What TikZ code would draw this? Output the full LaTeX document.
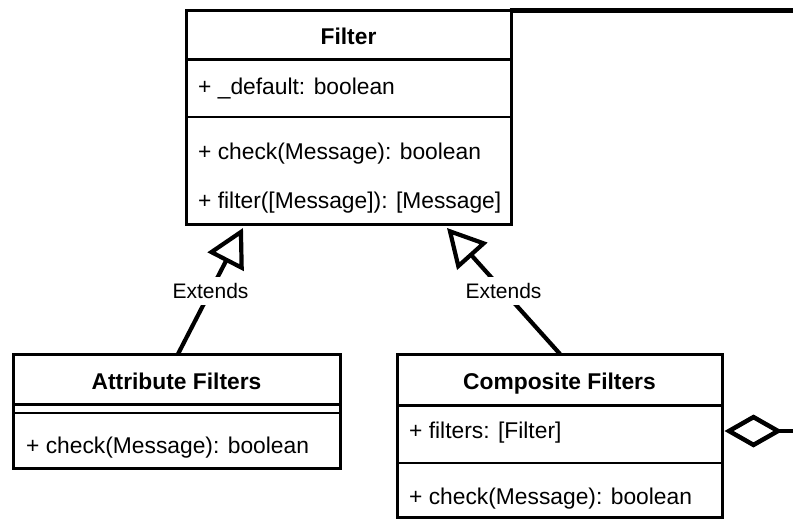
\documentclass[tikz,border=0pt]{standalone}
\usepackage{fontspec}
\setmainfont{Liberation Sans}
\usetikzlibrary{arrows.meta}
\begin{document}
\begin{tikzpicture}[x=1pt,y=-1pt,
  classbox/.style={draw=black, line width=3pt, inner sep=0pt, outer sep=0pt, fill=white},
  classtitle/.style={font=\fontsize{22.8}{27}\selectfont\bfseries, inner sep=0pt, text height=16pt, text depth=0pt},
  member/.style={font=\fontsize{22.8}{27}\selectfont, anchor=west, inner sep=0pt, text height=16pt, text depth=0pt},
  headline/.style={line width=3pt},
  sepline/.style={line width=2pt},
  extends/.style={line width=4.2pt, -{Triangle[open,length=38pt,width=40pt]}},
  extlabel/.style={fill=white, font=\fontsize{21}{25}\selectfont, inner xsep=1pt, inner ysep=6pt},
  assoc/.style={line width=5pt},
  aggr/.style={line width=4.5pt, {Diamond[open,length=58pt,width=33pt]}-}
]
\useasboundingbox (0,0) rectangle (793,519);

% Filter class
\node[classbox, minimum width=325pt, minimum height=213pt] (filter) at (348.5,117.5) {};
\draw[headline] (filter.west |- 0,60) -- (filter.east |- 0,60);
\draw[sepline] (filter.west |- 0,117) -- (filter.east |- 0,117);
\node[classtitle] (tfilter) at (348.5,37) {Filter};
\node[member] (fdefault) at (198,87) {+ \_default: boolean};
\node[member] (fcheck) at (198,151) {+ check(Message): boolean};
\node[member] (ffilter) at (198,200) {+ filter([Message]): [Message]};

% Attribute Filters class
\node[classbox, minimum width=327pt, minimum height=114pt] (attr) at (176.5,411) {};
\draw[headline] (attr.west |- 0,404) -- (attr.east |- 0,404);
\draw[sepline] (attr.west |- 0,413) -- (attr.east |- 0,413);
\node[classtitle] (tattr) at (176.5,381) {Attribute Filters};
\node[member] (acheck) at (26,445) {+ check(Message): boolean};

% Composite Filters class
\node[classbox, minimum width=325pt, minimum height=163pt] (comp) at (559.5,435.5) {};
\draw[headline] (comp.west |- 0,405) -- (comp.east |- 0,405);
\draw[sepline] (comp.west |- 0,463) -- (comp.east |- 0,463);
\node[classtitle] (tcomp) at (559.5,381) {Composite Filters};
\node[member] (cfilters) at (409,430) {+ filters: [Filter]};
\node[member] (ccheck) at (409,496) {+ check(Message): boolean};

% off-canvas ends
\coordinate (edgeT) at (793,11);
\coordinate (edgeD) at (793,431);

% connectors
\draw[extends] ([xshift=165pt]attr.north west) -- node[extlabel] {Extends} ([xshift=57pt,yshift=-4pt]filter.south west);
\draw[extends] ([xshift=163pt]comp.north west) -- node[extlabel] {Extends} ([xshift=261pt,yshift=-4pt]filter.south west);
\draw[assoc] ([xshift=-1.5pt]filter.north east) -- (edgeT);
\draw[aggr] ([xshift=2.5pt,yshift=4.5pt]comp.east) -- (edgeD);
\end{tikzpicture}
\end{document}
